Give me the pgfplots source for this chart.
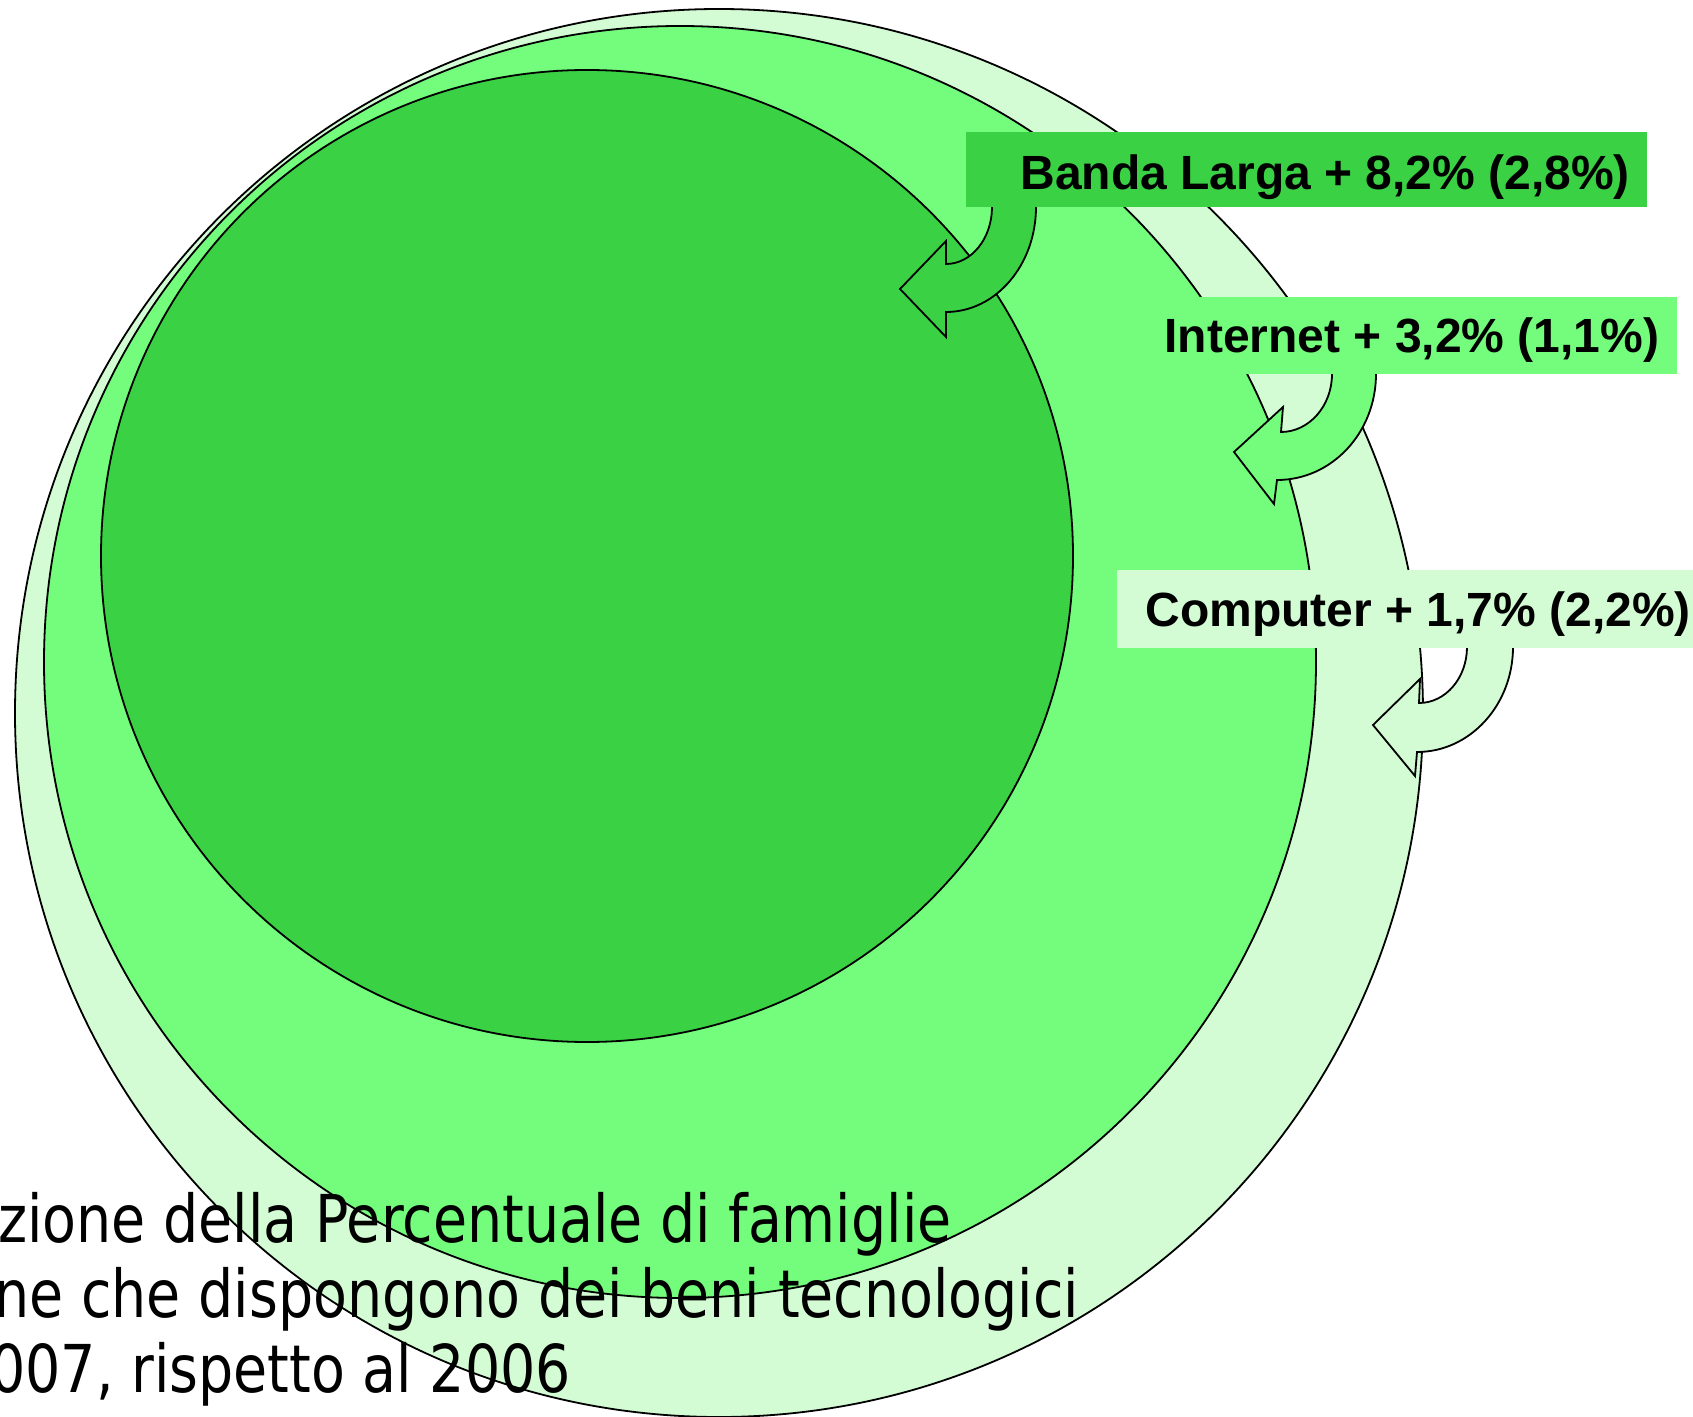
\documentclass[border=0pt]{standalone}
\usepackage{pgfplots}
\pgfplotsset{compat=1.18}
\usepackage{fontspec}
\setmainfont{Liberation Sans}
\newfontfamily\bottomfont[FakeStretch=0.84]{DejaVu Sans}
\definecolor{gdark}{RGB}{58,210,68}
\definecolor{glight}{RGB}{116,252,124}
\definecolor{gpale}{RGB}{212,252,212}
\begin{document}
\begin{tikzpicture}
\begin{axis}[
  at={(0,0)}, anchor=south west,
  scale only axis, width=846.5pt, height=708.5pt,
  xmin=0, xmax=1693, ymin=0, ymax=1417, y dir=reverse,
  hide axis, clip=false]
% circles: centre x, centre y, radius (pixel units)
\filldraw[fill=gpale, draw=black, line width=0.9pt] (axis cs:719,713) ellipse [x radius=704, y radius=704];
\filldraw[fill=glight, draw=black, line width=0.9pt] (axis cs:680,662) ellipse [x radius=636, y radius=636];
\filldraw[fill=gdark, draw=black, line width=0.9pt] (axis cs:587,556) ellipse [x radius=486, y radius=486];
% caption text (cut at the left edge)
\node[anchor=base west, inner sep=0, font=\bottomfont\fontsize{33}{38}\selectfont] at (axis cs:-2,1242) {zione della Percentuale di famiglie};
\node[anchor=base west, inner sep=0, font=\bottomfont\fontsize{33}{38}\selectfont] at (axis cs:-6,1317) {ne che dispongono dei beni tecnologici};
\node[anchor=base west, inner sep=0, font=\bottomfont\fontsize{33}{38}\selectfont] at (axis cs:-10,1392) {007, rispetto al 2006};
% Banda Larga arrow + box
\filldraw[fill=gdark, draw=black, line width=0.9pt]
  (axis cs:992,190) -- (axis cs:992,207)
  .. controls (axis cs:992,238.5) and (axis cs:971.4,264) .. (axis cs:946,264)
  -- (axis cs:946,241) -- (axis cs:900,289) -- (axis cs:946,337) -- (axis cs:946,312)
  .. controls (axis cs:995.7,312) and (axis cs:1036,265) .. (axis cs:1036,207)
  -- (axis cs:1036,190) -- cycle;
\fill[gdark] (axis cs:966,132) rectangle (axis cs:1647,207.5);
\node[anchor=base west, inner sep=0, font=\bfseries\fontsize{24}{28}\selectfont] at (axis cs:1020,190) {Banda Larga + 8,2\% (2,8\%)};
% Internet arrow + box
\filldraw[fill=glight, draw=black, line width=0.9pt]
  (axis cs:1332,360) -- (axis cs:1332,374)
  .. controls (axis cs:1332,406) and (axis cs:1309,432) .. (axis cs:1281,432)
  -- (axis cs:1283,407) -- (axis cs:1234,452) -- (axis cs:1274,504) -- (axis cs:1277,480)
  .. controls (axis cs:1332,480) and (axis cs:1376,432.5) .. (axis cs:1376,374)
  -- (axis cs:1376,360) -- cycle;
\fill[glight] (axis cs:1150,297) rectangle (axis cs:1677,374.5);
\node[anchor=base west, inner sep=0, font=\bfseries\fontsize{24}{28}\selectfont] at (axis cs:1164,353) {Internet + 3,2\% (1,1\%)};
% Computer arrow + box
\filldraw[fill=gpale, draw=black, line width=0.9pt]
  (axis cs:1467,630) -- (axis cs:1467,647)
  .. controls (axis cs:1467,678) and (axis cs:1445.5,703) .. (axis cs:1419,703)
  -- (axis cs:1420,679) -- (axis cs:1373,725) -- (axis cs:1415,776) -- (axis cs:1417,752)
  .. controls (axis cs:1470,752) and (axis cs:1513,705) .. (axis cs:1513,647)
  -- (axis cs:1513,630) -- cycle;
\fill[gpale] (axis cs:1117,570) rectangle (axis cs:1700,647.5);
\node[anchor=base west, inner sep=0, font=\bfseries\fontsize{24}{28}\selectfont] at (axis cs:1145,626) {Computer + 1,7\% (2,2\%)};
\end{axis}
\pgfresetboundingbox
\path[use as bounding box] (current axis.south west) rectangle (current axis.north east);
\end{tikzpicture}
\end{document}
